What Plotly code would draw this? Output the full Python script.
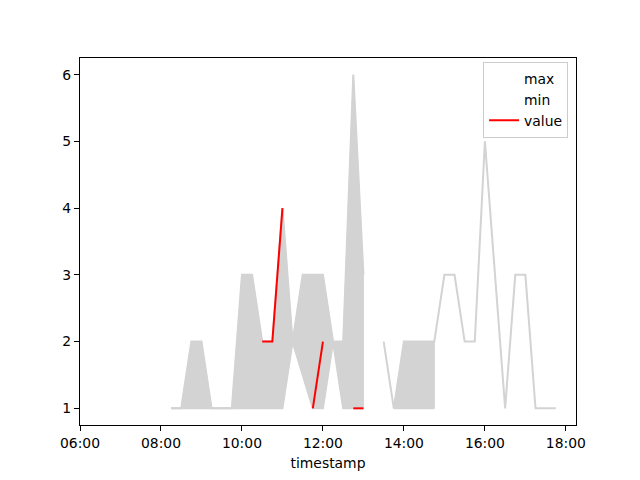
import plotly.graph_objects as go

day = "2023-01-01 "
times = ["08:15", "08:30", "08:45", "09:00", "09:15", "09:30", "09:45", "10:00", "10:15",
         "10:30", "10:45", "11:00", "11:15", "11:30", "11:45", "12:00", "12:15", "12:30",
         "12:45", "13:00", "13:15", "13:30", "13:45", "14:00", "14:15", "14:30", "14:45",
         "15:00", "15:15", "15:30", "15:45", "16:00", "16:15", "16:30", "16:45", "17:00",
         "17:15", "17:30", "17:45"]
max_vals = [1, 1, 2, 2, 1, 1, 1, 3, 3, 2, 2, 4, 2, 3, 3, 3, 2, 2, 6, 3, None, 2, 1, 2, 2, 2, 2,
            3, 3, 2, 2, 5, 3, 1, 3, 3, 1, 1, 1]
min_vals = [1, 1, 1, 1, 1, 1, 1, 1, 1, 1, 1, 1, 2, 1.5, 1, 1, 2, 1, 1, 1, None, None, 1, 1, 1, 1, 1,
            None, None, None, None, None, None, None, None, None, None, None, None]
value_vals = [None, None, None, None, None, None, None, None, None, 2, 2, 4, None, None, 1, 2,
              None, None, 1, 1, None, None, None, None, None, None, None, None, None, None, None,
              None, None, None, None, None, None, None, None]
x_range = ["06:00", "18:15"]
tick_times = ["06:00", "08:00", "10:00", "12:00", "14:00", "16:00", "18:00"]

ts = [day + t for t in times]
FONT = "DejaVu Sans"
GRAY = "#d3d3d3"

fig = go.Figure()

# fill polygons between max and min over contiguous runs
runs = []
cur = []
for i in range(len(ts)):
    if max_vals[i] is not None and min_vals[i] is not None:
        cur.append(i)
    else:
        if cur:
            runs.append(cur)
        cur = []
if cur:
    runs.append(cur)

for run in runs:
    xs = [ts[i] for i in run] + [ts[i] for i in reversed(run)]
    ys = [max_vals[i] for i in run] + [min_vals[i] for i in reversed(run)]
    fig.add_trace(go.Scatter(x=xs, y=ys, mode="lines", fill="toself", fillcolor=GRAY,
                             line=dict(color=GRAY, width=1), showlegend=False,
                             hoverinfo="skip"))

fig.add_trace(go.Scatter(x=ts, y=max_vals, mode="lines", line=dict(color=GRAY, width=2),
                         showlegend=False))
fig.add_trace(go.Scatter(x=ts, y=min_vals, mode="lines", line=dict(color=GRAY, width=2),
                         showlegend=False))

# legend entries for max / min (invisible handles)
fig.add_trace(go.Scatter(x=[ts[0]], y=[max_vals[0]], mode="lines", name="max",
                         line=dict(color="rgba(0,0,0,0)", width=2)))
fig.add_trace(go.Scatter(x=[ts[0]], y=[min_vals[0]], mode="lines", name="min",
                         line=dict(color="rgba(0,0,0,0)", width=2)))
fig.add_trace(go.Scatter(x=ts, y=value_vals, mode="lines", name="value",
                         line=dict(color="red", width=2)))

fig.update_layout(
    width=640, height=480,
    margin=dict(l=80, r=64, t=58, b=53, pad=0),
    paper_bgcolor="white", plot_bgcolor="white",
    font=dict(family=FONT, size=13.9, color="black"),
    legend=dict(x=0.984, y=0.99, xanchor="right", yanchor="top",
                bgcolor="rgba(255,255,255,0.8)", bordercolor="#cccccc", borderwidth=1,
                font=dict(family=FONT, size=13.9), tracegroupgap=0,
                itemwidth=30),
    xaxis=dict(
        type="date",
        range=[day + x_range[0], day + x_range[1]],
        tickvals=[day + t for t in tick_times],
        ticktext=tick_times,
        showgrid=False, zeroline=False,
        showline=True, linecolor="black", linewidth=1.1, mirror=True,
        ticks="outside", ticklen=5, tickwidth=1.1, tickcolor="black",
        title=dict(text="timestamp", standoff=8, font=dict(family=FONT, size=13.9)),
    ),
    yaxis=dict(
        range=[0.75, 6.25], dtick=1, tick0=0,
        showgrid=False, zeroline=False,
        showline=True, linecolor="black", linewidth=1.1, mirror=True,
        ticks="outside", ticklen=5, tickwidth=1.1, tickcolor="black",
    ),
)

fig.write_html("out.html", config={"displayModeBar": False},
               post_script="document.body.style.margin='0';")
